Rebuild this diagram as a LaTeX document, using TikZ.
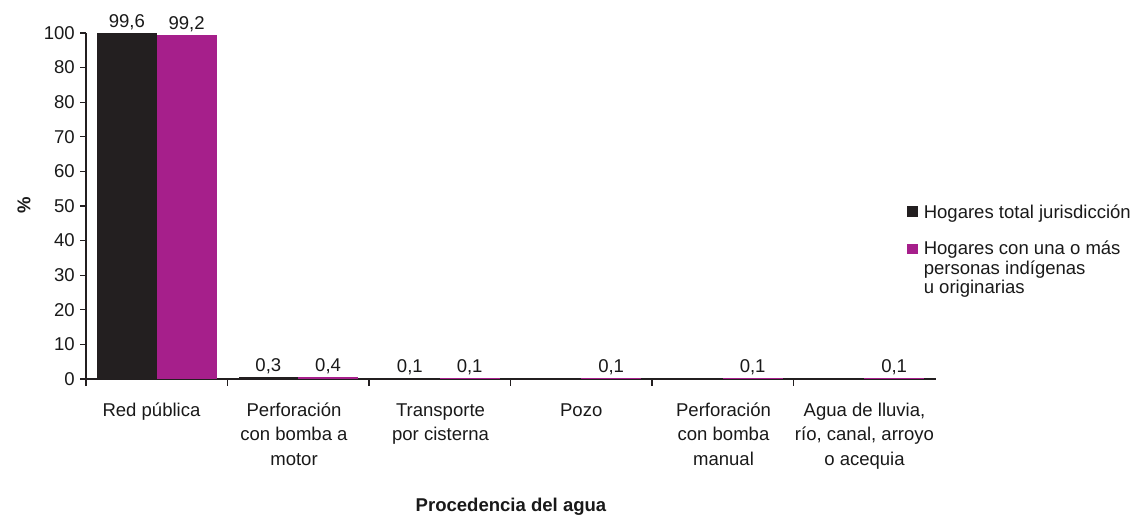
\documentclass[tikz,border=0pt]{standalone}
\usepackage{fontspec}
\setmainfont{Liberation Sans}
\definecolor{barblack}{RGB}{35,31,32}
\definecolor{barmag}{RGB}{166,31,139}
\definecolor{axiscol}{RGB}{35,31,32}
\newcommand\ctrlines[1]{\vtop{\baselineskip=18.2pt\halign{\hfil##\hfil\cr #1\crcr}}}
\newcommand\leftlines[1]{\vtop{\baselineskip=14.6pt\halign{##\hfil\cr #1\crcr}}}
\begin{document}
\begin{tikzpicture}[x=0.75pt,y=-0.75pt,
  txt/.style={font=\fontsize{13.9}{16}\selectfont, inner sep=0pt, text=black!90},
  boldtxt/.style={font=\fontsize{13.9}{16}\selectfont\bfseries, inner sep=0pt, text=black!90},
  axisline/.style={draw=axiscol, line width=0.8pt},
  blackbar/.style={fill=barblack},
  magbar/.style={fill=barmag}]
\useasboundingbox (0,0) rectangle (1137,516);
% axes
\coordinate (origin) at (86,379);
\coordinate (ytop) at (86,33);
\coordinate (xend) at (936,379);
\coordinate (ybot) at (86,386);
\draw[axisline] (ybot) -- (ytop);
\draw[axisline] (origin) -- (xend);
% y ticks and labels
\foreach \v/\t [count=\i] in {0/0,10/10,20/20,30/30,40/40,50/50,60/60,70/70,80/80,90/80,100/100}{
  \pgfmathsetmacro\yy{379-3.46*\v}
  \coordinate (yt\i) at (86,\yy);
  \coordinate (ytl\i) at (80,\yy);
  \draw[axisline] (ytl\i) -- (yt\i);
  \node[txt, anchor=east] (ylab\i) at (75,\yy) {\t};
}
% x ticks
\foreach \i in {1,...,5}{
  \pgfmathsetmacro\xx{86+141.5*\i}
  \coordinate (xt\i) at (\xx,379);
  \coordinate (xtb\i) at (\xx,386);
  \draw[axisline] (xt\i) -- (xtb\i);
}
% bars
\foreach \i/\vb/\vm/\lb/\lm in {0/99.6/99.2/{99,6}/{99,2},1/0.3/0.4/{0,3}/{0,4},2/0.1/0.1/{0,1}/{0,1},3/0/0.1/{}/{0,1},4/0/0.1/{}/{0,1},5/0/0.1/{}/{0,1}}{
  \pgfmathsetmacro\xl{86+141.5*\i+11}
  \pgfmathsetmacro\xm{86+141.5*\i+70.75}
  \pgfmathsetmacro\xr{86+141.5*\i+130.5}
  \pgfmathsetmacro\yb{378-3.46*\vb}
  \pgfmathsetmacro\ym{378-3.46*\vm}
  \fill[blackbar] (\xl,379.4) rectangle (\xm,\yb);
  \fill[magbar] (\xm,379.4) rectangle (\xr,\ym);
  \node[txt, anchor=base] (vb\i) at ({(\xl+\xm)/2},{379-3.46*\vb-6.5}) {\lb};
  \node[txt, anchor=base] (vm\i) at ({(\xm+\xr)/2},{379-3.46*\vm-6.5}) {\lm};
}
% category labels
\node[txt, anchor=base] (c1) at (151.5,416.7) {\ctrlines{Red pública}};
\node[txt, anchor=base] (c2) at (294,416.7) {\ctrlines{Perforación\cr con bomba a\cr motor}};
\node[txt, anchor=base] (c3) at (440.5,416.7) {\ctrlines{Transporte\cr por cisterna}};
\node[txt, anchor=base] (c4) at (581.25,416.7) {\ctrlines{Pozo}};
\node[txt, anchor=base] (c5) at (723.5,416.7) {\ctrlines{Perforación\cr con bomba\cr manual}};
\node[txt, anchor=base] (c6) at (864.5,416.7) {\ctrlines{Agua de lluvia,\cr río, canal, arroyo\cr o acequia}};
% axis titles
\node[boldtxt, rotate=90] (ytitle) at (24,205) {\%};
\node[boldtxt, anchor=base] (xtitle) at (511,511.5) {Procedencia del agua};
% legend
\fill[blackbar] (907,206.5) rectangle (917.5,217);
\fill[magbar] (907,244) rectangle (917.5,254.5);
\node[txt, anchor=base west] (leg1) at (923.5,218.3) {Hogares total jurisdicción};
\node[txt, anchor=base west] (leg2) at (923.5,255) {\leftlines{Hogares con una o más\cr personas indígenas\cr u originarias}};
\end{tikzpicture}
\end{document}
